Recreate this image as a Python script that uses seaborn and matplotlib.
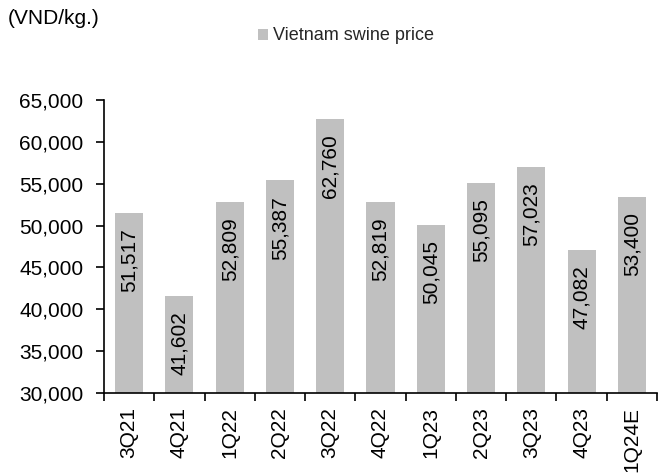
import matplotlib
matplotlib.use("Agg")
import matplotlib.pyplot as plt
import seaborn as sns
import pandas as pd
from matplotlib.ticker import FuncFormatter, FixedLocator
from matplotlib.patches import Patch

quarters = ["3Q21", "4Q21", "1Q22", "2Q22", "3Q22", "4Q22", "1Q23", "2Q23", "3Q23", "4Q23", "1Q24E"]
prices = [51517, 41602, 52809, 55387, 62760, 52819, 50045, 55095, 57023, 47082, 53400]
series_name = "Vietnam swine price"
unit_label = "(VND/kg.)"

sns.set_theme(style="white")
plt.rcParams['font.family'] = ['Liberation Sans', 'DejaVu Sans']

df = pd.DataFrame({"quarter": quarters, "price": prices})

fig = plt.figure(figsize=(6.59, 4.73), dpi=100)
ax = fig.add_axes([104/659, 1 - 393/473, (657-104)/659, (393-100)/473])

bar_color = "#C0C0C0"
sns.barplot(data=df, x="quarter", y="price", color=bar_color, width=0.56, ax=ax,
            saturation=1, linewidth=0)

ax.set_ylim(30000, 65000)
ax.set_xlim(-0.5, len(quarters) - 0.5)
ax.set_yticks(range(30000, 65001, 5000))
ax.yaxis.set_major_formatter(FuncFormatter(lambda v, p: f"{int(v):,}"))
ax.set_xlabel("")
ax.set_ylabel("")

for s in ["top", "right"]:
    ax.spines[s].set_visible(False)
for s in ["left", "bottom"]:
    ax.spines[s].set_color("black")
    ax.spines[s].set_linewidth(1.2)

ax.tick_params(axis="y", which="major", direction="out", length=5.8, width=1.2,
               color="black", labelsize=15, labelcolor="black", left=True, pad=9)
ax.tick_params(axis="x", which="major", length=0, labelsize=15, labelcolor="black",
               labelrotation=90, pad=10)
ax.xaxis.set_minor_locator(FixedLocator([i - 0.5 for i in range(len(quarters) + 1)]))
ax.tick_params(axis="x", which="minor", direction="out", length=6, width=1.2,
               color="black", bottom=True)

for patch, val in zip(ax.patches, prices):
    cx = patch.get_x() + patch.get_width() / 2
    top = patch.get_height()
    ax.annotate(f"{val:,}", xy=(cx, top), xytext=(0, -11), textcoords="offset points",
                ha="center", va="top", rotation=90, fontsize=15, color="black")

fig.text(8/659, 1 - 18/473, unit_label, fontsize=15, ha="left", va="center", color="black")
handle = Patch(facecolor=bar_color, edgecolor="none")
fig.legend([handle], [series_name], loc="center left",
           bbox_to_anchor=(251/659, 1 - 36/473), frameon=False, fontsize=13,
           handlelength=0.55, handleheight=0.55, handletextpad=0.25, borderaxespad=0)

fig.savefig("out.png", dpi=100)
